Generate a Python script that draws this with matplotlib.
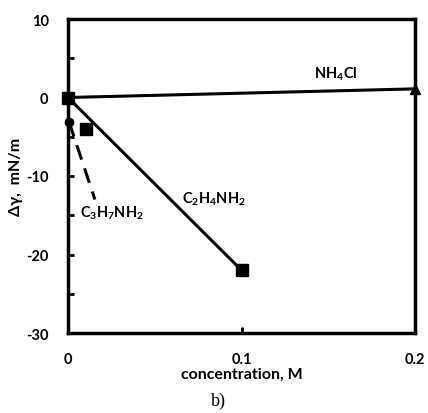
import matplotlib.pyplot as plt
from matplotlib.ticker import MultipleLocator

# data
nh4cl_x = [0, 0.2]
nh4cl_y = [0, 1.1]
c2_x = [0, 0.0104, 0.1]
c2_y = [0, -4.0, -22.0]
c3_x = [0, 0.0006, 0.0155]
c3_y = [0, -3.1, -13.0]

plt.rcParams['font.family'] = ['Lato', 'DejaVu Sans']
plt.rcParams['font.weight'] = 'bold'
plt.rcParams['axes.unicode_minus'] = False
plt.rcParams['mathtext.fontset'] = 'custom'
plt.rcParams['mathtext.rm'] = 'Lato:weight=bold'
plt.rcParams['mathtext.bf'] = 'Lato:weight=bold'
plt.rcParams['mathtext.default'] = 'bf'

fig = plt.figure(figsize=(4.28, 4.14), dpi=100)
ax = fig.add_axes([68/428, 80/414, (415-68)/428, (334-20)/414])

# NH4Cl
ax.plot(nh4cl_x, nh4cl_y, color='black', lw=2.2)
ax.plot(nh4cl_x[-1:], nh4cl_y[-1:], marker='^', color='black', ms=7, ls='none', clip_on=False)

# C2H4NH2: straight line between the end points, squares at all points
ax.plot([c2_x[0], c2_x[-1]], [c2_y[0], c2_y[-1]], color='black', lw=2.2)
ax.plot(c2_x, c2_y, marker='s', color='black', ms=9, ls='none', clip_on=False)

# C3H7NH2
ax.plot(c3_x, c3_y, color='black', lw=2.2, dashes=(5, 3))
ax.plot(c3_x[1:2], c3_y[1:2], marker='o', color='black', ms=6, ls='none', clip_on=False)

ax.text(0.142, 3.1, r'$\mathbf{NH_4Cl}$', fontsize=10.5, va='center')
ax.text(0.0657, -12.8, r'$\mathbf{C_2H_4NH_2}$', fontsize=10.5, va='center')
ax.text(0.0069, -14.6, r'$\mathbf{C_3H_7NH_2}$', fontsize=10.5, va='center')

ax.set_xlim(0, 0.2)
ax.set_ylim(-30, 10)
ax.set_xticks([0, 0.1, 0.2])
ax.set_xticklabels(['0', '0.1', '0.2'])
ax.set_yticks([10, 0, -10, -20, -30])
ax.yaxis.set_minor_locator(MultipleLocator(5))
ax.tick_params(axis='both', direction='in', width=2, length=4, labelsize=10.5, pad=14)
ax.tick_params(axis='y', which='minor', direction='in', width=2, length=4)
for lab in ax.get_xticklabels() + ax.get_yticklabels():
    lab.set_fontweight('bold')
for s in ax.spines.values():
    s.set_linewidth(2.5)

ax.set_ylabel('Δγ,  mN/m', fontsize=11.5, fontweight='bold', labelpad=2)
ax.set_xlabel('concentration, M', fontsize=11.5, fontweight='bold', labelpad=0)
fig.text(218/428, 1 - 401/414, 'b)', fontsize=13, family='Liberation Serif',
         fontweight='normal', ha='center', va='center')

fig.savefig('out.png', dpi=100)
